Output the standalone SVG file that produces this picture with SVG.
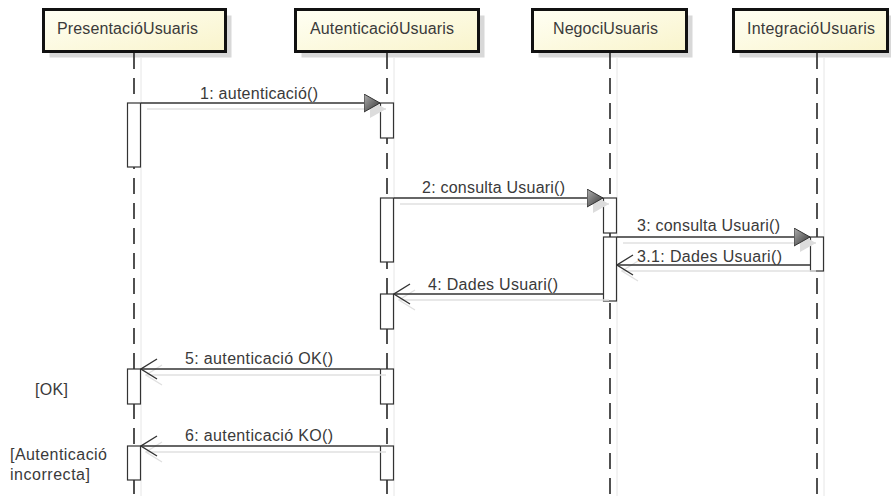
<svg xmlns="http://www.w3.org/2000/svg" width="891" height="496" viewBox="0 0 891 496">
<defs>
<linearGradient id="boxFill" x1="0" y1="0" x2="1" y2="1">
<stop offset="0" stop-color="#fffff4"/>
<stop offset="1" stop-color="#f9f4cc"/>
</linearGradient>
<linearGradient id="headFill" x1="0" y1="0" x2="1" y2="1">
<stop offset="0" stop-color="#b0b0b0"/>
<stop offset="1" stop-color="#333"/>
</linearGradient>
<marker id="filled" markerUnits="userSpaceOnUse" markerWidth="17" markerHeight="19" viewBox="0 0 17 19" refX="16.5" refY="9.5" orient="auto">
<path d="M0.5,0.5 L16.5,9.5 L0.5,18.5 Z" fill="url(#headFill)" stroke="#333" stroke-width="1"/>
</marker>
<marker id="filledShadow" markerUnits="userSpaceOnUse" markerWidth="17" markerHeight="19" viewBox="0 0 17 19" refX="16.5" refY="9.5" orient="auto">
<path d="M0.5,0.5 L16.5,9.5 L0.5,18.5 Z" fill="#dcdcdc"/>
</marker>
<marker id="open" markerUnits="userSpaceOnUse" markerWidth="18" markerHeight="22" viewBox="0 0 18 22" refX="17" refY="11" orient="auto">
<path d="M1,1 L17,11 L1,21" fill="none" stroke="#333" stroke-width="1.4"/>
</marker>
<marker id="openShadow" markerUnits="userSpaceOnUse" markerWidth="18" markerHeight="22" viewBox="0 0 18 22" refX="17" refY="11" orient="auto">
<path d="M1,1 L17,11 L1,21" fill="none" stroke="#e0e0e0" stroke-width="1.4"/>
</marker>
</defs>
<style>
text { font-family: "Liberation Sans", Arial, sans-serif; font-size: 16px; fill: #3a3a3a; }
.box { fill: url(#boxFill); stroke: #111; stroke-width: 3; }
.boxShadow { fill: #d8d8d8; }
.life { stroke: #333; stroke-width: 1.7; stroke-dasharray: 16 9; fill: none; }
.lifeShadow { stroke: #e6e6e6; stroke-width: 1; fill: none; }
.act { fill: #fff; stroke: #333; stroke-width: 1.2; }
.msg { stroke: #333; stroke-width: 1.4; fill: none; }
.sync { marker-end: url(#filled); }
.ret { marker-end: url(#open); }
.msgShadow { stroke: #e0e0e0; stroke-width: 1.4; fill: none; }
.syncS { marker-end: url(#filledShadow); }
.retS { marker-end: url(#openShadow); }
</style>

<g id="PresentacioUsuaris">
<rect class="boxShadow" x="49.5" y="15.5" width="182" height="42"/>
<rect class="box" x="43.5" y="9.5" width="182" height="42"/>
<text x="57" y="34" textLength="141" lengthAdjust="spacing">PresentacióUsuaris</text>
<line class="lifeShadow" x1="141" y1="58" x2="141" y2="496"/>
<line class="life" x1="134" y1="53" x2="134" y2="496"/>
<rect class="act" x="127.5" y="103" width="13" height="64"/>
<rect class="act" x="127.5" y="369" width="13" height="35"/>
<rect class="act" x="127.5" y="446" width="13" height="34"/>
</g>

<g id="AutenticacioUsuaris">
<rect class="boxShadow" x="301.5" y="15.5" width="183" height="42"/>
<rect class="box" x="295.5" y="9.5" width="183" height="42"/>
<text x="310" y="34" textLength="144" lengthAdjust="spacing">AutenticacióUsuaris</text>
<line class="lifeShadow" x1="394" y1="58" x2="394" y2="496"/>
<line class="life" x1="387" y1="53" x2="387" y2="496"/>
<rect class="act" x="380.5" y="103" width="13" height="35"/>
<rect class="act" x="380.5" y="198" width="13" height="64"/>
<rect class="act" x="380.5" y="294" width="13" height="35"/>
<rect class="act" x="380.5" y="369" width="13" height="35"/>
<rect class="act" x="380.5" y="446" width="13" height="34"/>
</g>

<g id="NegociUsuaris">
<rect class="boxShadow" x="538.5" y="15.5" width="154" height="42"/>
<rect class="box" x="532.5" y="9.5" width="154" height="42"/>
<text x="553" y="34" textLength="105" lengthAdjust="spacing">NegociUsuaris</text>
<line class="lifeShadow" x1="617" y1="58" x2="617" y2="496"/>
<line class="life" x1="610" y1="53" x2="610" y2="496"/>
<rect class="act" x="603.5" y="198" width="13" height="35"/>
<rect class="act" x="603.5" y="237" width="13" height="64"/>
</g>

<g id="IntegracioUsuaris">
<rect class="boxShadow" x="739.5" y="15.5" width="154" height="42"/>
<rect class="box" x="733.5" y="9.5" width="154" height="42"/>
<text x="747" y="34" textLength="128" lengthAdjust="spacing">IntegracióUsuaris</text>
<line class="lifeShadow" x1="824" y1="58" x2="824" y2="496"/>
<line class="life" x1="817" y1="53" x2="817" y2="496"/>
<rect class="act" x="810.5" y="237" width="13" height="34"/>
</g>

<g id="connectors">
<line class="msgShadow syncS" x1="147" y1="109" x2="386" y2="109"/>
<line class="msg sync" x1="141" y1="103" x2="380" y2="103"/>
<text x="200" y="99" textLength="118" lengthAdjust="spacing">1: autenticació()</text>

<line class="msgShadow syncS" x1="400" y1="204" x2="609" y2="204"/>
<line class="msg sync" x1="394" y1="198" x2="603" y2="198"/>
<text x="422" y="193" textLength="143" lengthAdjust="spacing">2: consulta Usuari()</text>

<line class="msgShadow syncS" x1="623" y1="243" x2="816" y2="243"/>
<line class="msg sync" x1="617" y1="237" x2="810" y2="237"/>
<text x="637" y="231" textLength="143" lengthAdjust="spacing">3: consulta Usuari()</text>

<line class="msgShadow retS" x1="816" y1="271" x2="622" y2="271"/>
<line class="msg ret" x1="810" y1="265" x2="617" y2="265"/>
<text x="637" y="262" textLength="145" lengthAdjust="spacing">3.1: Dades Usuari()</text>

<line class="msgShadow retS" x1="609" y1="300" x2="399" y2="300"/>
<line class="msg ret" x1="603" y1="294" x2="394" y2="294"/>
<text x="428" y="290" textLength="130" lengthAdjust="spacing">4: Dades Usuari()</text>

<line class="msgShadow retS" x1="386" y1="375" x2="146" y2="375"/>
<line class="msg ret" x1="380" y1="369" x2="141" y2="369"/>
<text x="185" y="364" textLength="148" lengthAdjust="spacing">5: autenticació OK()</text>

<line class="msgShadow retS" x1="386" y1="452" x2="146" y2="452"/>
<line class="msg ret" x1="380" y1="446" x2="141" y2="446"/>
<text x="185" y="441" textLength="148" lengthAdjust="spacing">6: autenticació KO()</text>
</g>

<g id="guards">
<text x="35" y="395" textLength="33" lengthAdjust="spacing">[OK]</text>
<text x="10" y="460" textLength="97" lengthAdjust="spacing">[Autenticació</text>
<text x="10" y="480" textLength="80" lengthAdjust="spacing">incorrecta]</text>
</g>
</svg>
